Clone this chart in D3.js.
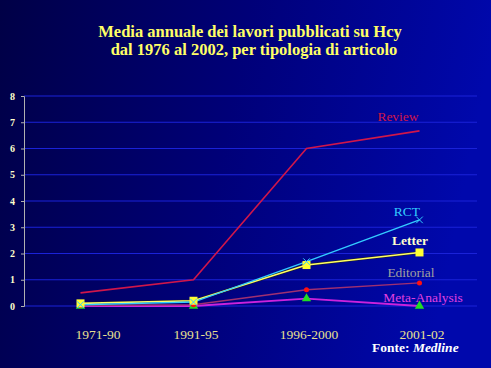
<!DOCTYPE html>
<html><head><meta charset="utf-8">
<script src="https://cdn.jsdelivr.net/npm/d3@7"></script>
<style>html,body{margin:0;padding:0;background:#000050;}svg{display:block;}</style>
</head><body>
<script>
const periods = ["1971-90", "1991-95", "1996-2000", "2001-02"];
const yTicks = [0, 1, 2, 3, 4, 5, 6, 7, 8];
const review = [0.5, 1.0, 6.0, 6.67];
const rct = [0.05, 0.15, 1.69, 3.28];
const letter = [0.1, 0.2, 1.56, 2.04];
const editorial = [0.02, 0.05, 0.62, 0.88];
const metaAnalysis = [0.0, 0.0, 0.28, 0.0];
const seriesNames = ["Review", "RCT", "Letter", "Editorial", "Meta-Analysis"];
const titleLines = ["Media annuale dei lavori pubblicati su Hcy", "dal 1976 al 2002, per tipologia di articolo"];

const W = 491, H = 368;
const serif = "Liberation Serif, Times New Roman, serif";
const svg = d3.select("body").append("svg").attr("width", W).attr("height", H);
const defs = svg.append("defs");
const grad = defs.append("linearGradient").attr("id", "bg").attr("x1", "0").attr("x2", "1").attr("y1", "0").attr("y2", "0.15");
grad.append("stop").attr("offset", "0").attr("stop-color", "#000046");
grad.append("stop").attr("offset", "0.5").attr("stop-color", "#000078");
grad.append("stop").attr("offset", "1").attr("stop-color", "#0008ac");
svg.append("rect").attr("width", W).attr("height", H).attr("fill", "url(#bg)");

const x = d3.scalePoint().domain(periods).range([24, 476]).padding(0.5);
const y = d3.scaleLinear().domain([0, 8]).range([306, 96]);

// title
const title = svg.append("text").attr("text-anchor", "middle")
  .style("font-family", serif)
  .attr("font-weight", "bold").attr("font-size", 16.5).attr("fill", "#ffff66");
titleLines.forEach((t, i) => title.append("tspan").attr("x", i === 0 ? 250 : 254).attr("y", 37 + i * 18).text(t));

// gridlines
svg.append("g").selectAll("line").data(yTicks).join("line")
  .attr("x1", 24).attr("x2", 477)
  .attr("y1", d => y(d)).attr("y2", d => y(d))
  .attr("stroke", "#1a22d8").attr("stroke-width", 1.2);

// y axis
const yAxis = svg.append("g").attr("transform", "translate(24,0)")
  .call(d3.axisLeft(y).tickValues(yTicks).tickSize(3).tickPadding(6));
yAxis.select(".domain").attr("stroke", "#b0b0b0").attr("stroke-width", 1);
yAxis.selectAll(".tick line").attr("stroke", "#b0b0b0");
yAxis.selectAll("text").attr("fill", "#ffffcc").attr("font-size", 10)
  .attr("font-weight", "bold").style("font-family", serif);

// x axis labels
const xAxis = svg.append("g").attr("transform", "translate(0,306)")
  .call(d3.axisBottom(x).tickSize(0).tickPadding(23));
xAxis.select(".domain").remove();
xAxis.selectAll("text").attr("fill", "#e8e090").attr("font-size", 13.5)
  .style("font-family", serif)
  .attr("dx", (d, i) => i === 0 ? 17 : 2);

const line = d3.line().x((d, i) => x(periods[i])).y(d => y(d));
const series = [
  {name: "Review", values: review, color: "#d0164a", width: 1.6, marker: null, label: "#d0164a", lx: 398, ly: 121},
  {name: "Meta-Analysis", values: metaAnalysis, color: "#cc22dd", width: 1.8, marker: "triangle", mcolor: "#22dd22", label: "#e040e0", lx: 423, ly: 302},
  {name: "Editorial", values: editorial, color: "#a03070", width: 1.4, marker: "circle", mcolor: "#ff1010", label: "#a0a0a0", lx: 411, ly: 277},
  {name: "Letter", values: letter, color: "#ffff66", width: 1.6, marker: "square", mcolor: "#ffff33", label: "#ffffcc", lx: 410, ly: 245},
  {name: "RCT", values: rct, color: "#33ccff", width: 1.4, marker: "cross", mcolor: "#33ccff", label: "#33ccff", lx: 407, ly: 216}
];

series.forEach(s => {
  if (s.name === "Letter") {
    svg.append("path").datum(s.values).attr("d", line).attr("fill", "none")
      .attr("stroke", "#202020").attr("stroke-width", 2.6);
  }
  svg.append("path").datum(s.values).attr("d", line).attr("fill", "none")
    .attr("stroke", s.color).attr("stroke-width", s.width);
});

series.forEach(s => {
  if (!s.marker) return;
  const g = svg.append("g");
  const pts = s.values.map((v, i) => [x(periods[i]), y(v)]);
  if (s.marker === "square") {
    g.selectAll("rect").data(pts).join("rect")
      .attr("x", d => d[0] - 4).attr("y", d => d[1] - 4).attr("width", 8).attr("height", 8)
      .attr("fill", s.mcolor);
  } else if (s.marker === "circle") {
    g.selectAll("path").data(pts).join("path")
      .attr("d", d3.symbol(d3.symbolCircle, 20)).attr("transform", d => `translate(${d[0]},${d[1]})`)
      .attr("fill", s.mcolor);
  } else if (s.marker === "triangle") {
    g.selectAll("path").data(pts).join("path")
      .attr("d", d3.symbol(d3.symbolTriangle, 38)).attr("transform", d => `translate(${d[0]},${d[1]})`)
      .attr("fill", s.mcolor);
  } else if (s.marker === "cross") {
    g.selectAll("path").data(pts).join("path")
      .attr("d", d3.symbol(d3.symbolX, 30)).attr("transform", d => `translate(${d[0]},${d[1]})`)
      .attr("fill", "none").attr("stroke", s.mcolor).attr("stroke-width", 1);
  }
});

// series labels
series.forEach(s => {
  svg.append("text").attr("x", s.lx).attr("y", s.ly).attr("text-anchor", "middle")
    .style("font-family", serif)
    .attr("font-size", 13.5).attr("font-weight", s.name === "Letter" ? "bold" : "normal")
    .attr("fill", s.label).text(s.name);
});

// source
const src = svg.append("text").attr("x", 372).attr("y", 352)
  .style("font-family", serif)
  .attr("font-size", 13.5).attr("font-weight", "bold").attr("fill", "#ffffff");
src.append("tspan").text("Fonte: ");
src.append("tspan").attr("font-style", "italic").text("Medline");
</script>
</body></html>
